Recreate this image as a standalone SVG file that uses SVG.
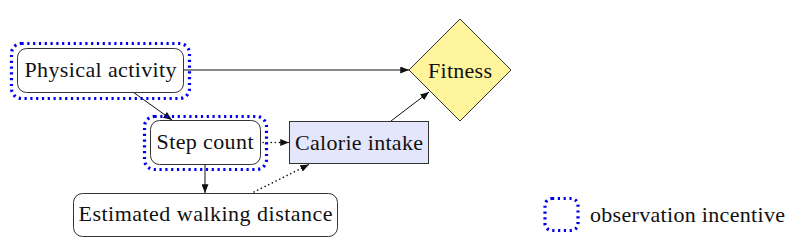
<svg xmlns="http://www.w3.org/2000/svg" width="800" height="245" viewBox="0 0 800 245">
<style>
.t{font-family:'Liberation Serif','Times New Roman',serif;font-size:22px;fill:#111;text-anchor:middle}
.box{fill:#fff;stroke:#333;stroke-width:1}
.obs{fill:none;stroke:#0000ee;stroke-width:3.2;stroke-dasharray:2.2 3.6;stroke-linecap:butt}
.e{fill:none;stroke:#111;stroke-width:1}
.d{stroke-width:1.6;stroke-dasharray:0.1 4;stroke-linecap:round}
</style>
<defs>
<marker id="a" viewBox="0 0 10 8" refX="10" refY="4" markerWidth="9" markerHeight="7" markerUnits="userSpaceOnUse" orient="auto">
<path d="M0,0 L10,4 L0,8 Z" fill="#111"/>
</marker>
</defs>
<g id="connectors">
<line class="e" x1="184" y1="70" x2="409" y2="70" marker-end="url(#a)"/>
<line class="e" x1="133" y1="92" x2="172" y2="120" marker-end="url(#a)"/>
<line class="e" x1="205" y1="165" x2="205" y2="193" marker-end="url(#a)"/>
<line class="e d" x1="263" y1="142.5" x2="281" y2="142.5"/>
<line class="e" x1="280" y1="142.5" x2="289" y2="142.5" marker-end="url(#a)"/>
<line class="e d" x1="254" y1="192" x2="302" y2="168"/>
<line class="e" x1="301" y1="168.5" x2="309" y2="164.5" marker-end="url(#a)"/>
<line class="e" x1="391" y1="121" x2="429" y2="92" marker-end="url(#a)"/>
</g>
<g id="physical-activity">
<rect class="obs" x="11.5" y="43.5" width="178" height="55" rx="10"/>
<rect class="box" x="17.5" y="48.5" width="166" height="44" rx="9"/>
<text class="t" x="100.5" y="77" textLength="152" lengthAdjust="spacing">Physical activity</text>
</g>
<g id="step-count">
<rect class="obs" x="144.5" y="116.5" width="122" height="53" rx="10"/>
<rect class="box" x="150.5" y="120.5" width="110" height="44" rx="9"/>
<text class="t" x="205" y="149" textLength="97" lengthAdjust="spacing">Step count</text>
</g>
<g id="calorie-intake">
<rect x="289.5" y="121.5" width="139" height="42" fill="#e4e6fb" stroke="#333" stroke-width="1"/>
<text class="t" x="359" y="150" textLength="128" lengthAdjust="spacing">Calorie intake</text>
</g>
<g id="fitness">
<polygon points="460,19 511,70 460,121 409,70" fill="#fff59c" stroke="#333" stroke-width="1"/>
<text class="t" x="460" y="78" textLength="64" lengthAdjust="spacing">Fitness</text>
</g>
<g id="estimated-walking-distance">
<rect class="box" x="73.5" y="193.5" width="264" height="43" rx="9"/>
<text class="t" x="205.5" y="221" textLength="254" lengthAdjust="spacing">Estimated walking distance</text>
</g>
<g id="legend">
<rect class="obs" x="545" y="198.5" width="33" height="32" rx="7"/>
<text class="t" x="687.5" y="222" textLength="195" lengthAdjust="spacing">observation incentive</text>
</g>
</svg>
